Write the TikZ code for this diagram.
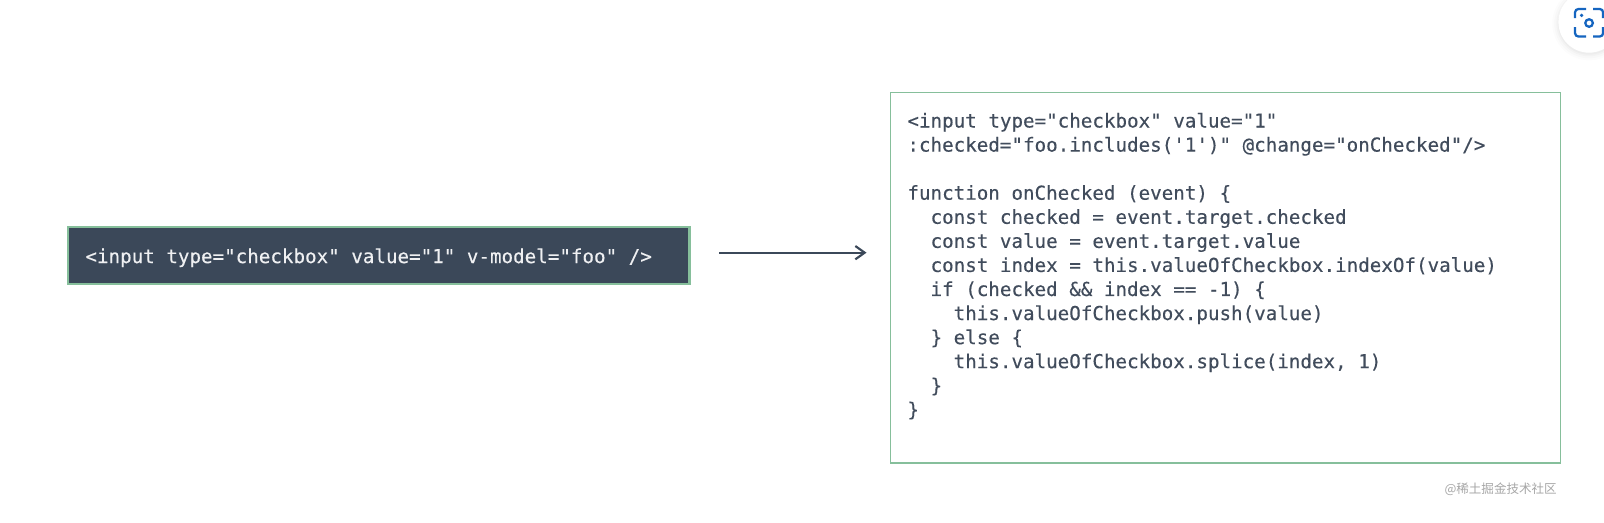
\documentclass[tikz,border=0pt]{standalone}
\usepackage{xcolor}
\usepackage{fontspec}
\usetikzlibrary{arrows.meta}
\setmonofont[FakeBold=0.25]{DejaVu Sans Mono}
\newfontfamily\cjkfont{Noto Sans CJK SC}
\definecolor{slatebg}{HTML}{3B4859}
\definecolor{slatetext}{HTML}{414C5C}
\definecolor{boxgreen}{HTML}{86BF9B}
\definecolor{iconblue}{HTML}{1565C0}
\newcommand{\codefont}{\ttfamily\fontsize{14.4pt}{18.05pt}\selectfont}
\begin{document}
\begin{tikzpicture}[x=0.7672pt, y=-0.7672pt,
    darkbox/.style={draw=boxgreen, line width=1.6pt, fill=slatebg, text=white!92!slatebg, font=\codefont, align=flush left, inner xsep=13.04pt, inner ysep=0pt, text width=440pt, minimum height=43pt},
    lightbox/.style={draw=boxgreen, line width=1pt, fill=white, text=slatetext, font=\codefont, align=flush left, inner xsep=12.6pt, inner ysep=3.6pt, text width=477.3pt, minimum height=277.8pt},
    flow/.style={draw=slatebg, line width=1.6pt, -{Straight Barb[length=7pt,width=10pt,line width=1.6pt]}},
    bracket/.style={draw=iconblue, line width=1.7pt, rounded corners=2.5pt}]
        \useasboundingbox (0,0) rectangle (1568,510.3);

        % Two boxes of code
        \node[darkbox, anchor=west] (inputBox) at (65.5,250) {\rule{0pt}{14pt}<input type="checkbox" value="1" v-model="foo" />};
        \node[lightbox, anchor=north west] (expandedBox) at (870,90) {<input type="checkbox" value="1"\\
:checked="foo.includes('1')" @change="onChecked"/>\\[18.05pt]
function onChecked (event) \{\\
\ \ const checked = event.target.checked\\
\ \ const value = event.target.value\\
\ \ const index = this.valueOfCheckbox.indexOf(value)\\
\ \ if (checked \&\& index == -1) \{\\
\ \ \ \ this.valueOfCheckbox.push(value)\\
\ \ \} else \{\\
\ \ \ \ this.valueOfCheckbox.splice(index, 1)\\
\ \ \}\\
\}\\[2pt]
\mbox{}};

        % Arrow between the boxes
        \coordinate (arrowFrom) at ([xshift=21.5pt,yshift=2.3pt]inputBox.east);
        \coordinate (arrowTo) at (arrowFrom -| expandedBox.west);
        \draw[flow, shorten >=17.6pt] (arrowFrom) -- (arrowTo);

        % Watermark
        \node[text=gray!70, font=\cjkfont\fontsize{9.4pt}{11pt}\selectfont, anchor=east, inner sep=0pt] (mark) at (1522,478) {@稀土掘金技术社区};

        % Round button in the corner, with its soft shadow
        \foreach \r/\o in {36/0.012, 34/0.015, 32/0.02, 30.5/0.025}
            \fill[black, opacity=\o] (1553.4,23) circle (\r);
        \node[circle, fill=white, minimum size=46pt, inner sep=0pt] (lensButton) at (1553.4,21.5) {};
        \draw[bracket] (1539.7,17.6) |- (1550.4,8.8);
        \draw[bracket] (1557.3,8.8) -| (1567.1,17.6);
        \draw[bracket] (1539.7,26.4) |- (1550.4,35.7);
        \draw[bracket] (1557.3,35.7) -| (1567.1,26.4);
        \fill[iconblue] (1546.1,15) circle (1.8);
        \draw[iconblue, line width=1.7pt] (1553.4,22.5) circle (3.7);

\end{tikzpicture}
\end{document}
